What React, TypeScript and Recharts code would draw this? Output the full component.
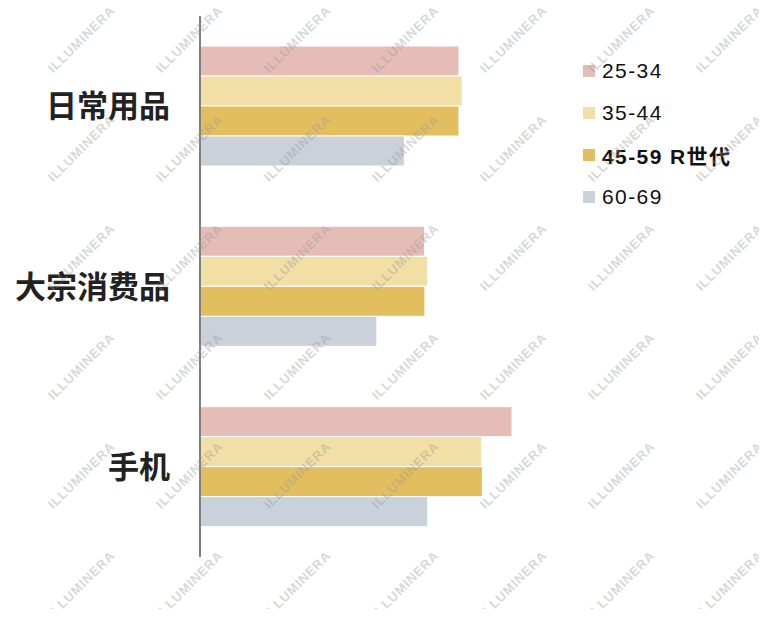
import React from 'react';
import { BarChart, Bar, XAxis, YAxis } from 'recharts';

const categories = ['日常用品', '大宗消费品', '手机'];
const seriesNames = ['25-34', '35-44', '45-59 R世代', '60-69'];
const seriesColors = ['#E5BDB6', '#F2DFA5', '#E3BE5E', '#CBD1DA'];

const age25to34 = [83, 72, 100];
const age35to44 = [84, 73, 90.3];
const age45to59 = [83, 72.1, 90.5];
const age60to69 = [65.5, 56.7, 73];

const seriesValues = [age25to34, age35to44, age45to59, age60to69];

const data = categories.map((name, i) => {
    const row: Record<string, string | number> = { name };
    seriesValues.forEach((vals, s) => { row['s' + s] = vals[i]; });
    return row;
});

const labelFont = '"Noto Sans CJK SC", "Noto Sans", sans-serif';
const legendFont = '"Liberation Sans", Arial, "Noto Sans CJK SC", sans-serif';

function Watermark() {
    const marks = [];
    for (let j = -2; j <= 3; j++) {
        for (let k = -6; k <= 2; k++) {
            const cx = 622 + 108 * k;
            const cy = 258 + 109 * j;
            marks.push(
                <text key={j + '_' + k} x={cx} y={cy} textAnchor="middle" dominantBaseline="middle"
                    transform={`rotate(-45 ${cx} ${cy})`} fontSize={13} fontWeight="bold" letterSpacing={0.8}
                    fontFamily={legendFont} fill="#999" fillOpacity={0.4}>ILLUMINERA</text>
            );
        }
    }
    return (
        <svg width={767} height={617} style={{ position: 'absolute', left: -8, top: -8, pointerEvents: 'none' }}>
            {marks}
        </svg>
    );
}

function Legend() {
    return (
        <div style={{ position: 'absolute', left: 575, top: 42 }}>
            {seriesNames.map((name, i) => (
                <div key={name} style={{ display: 'flex', alignItems: 'center', height: 42 }}>
                    <span style={{ width: 12, height: 12, background: seriesColors[i], marginRight: 7 }} />
                    <span style={{
                        fontFamily: legendFont, fontSize: 21, letterSpacing: 1.4,
                        fontWeight: i === 2 ? 'bold' : 'normal', color: '#111'
                    }}>{name}</span>
                </div>
            ))}
        </div>
    );
}

export default function App() {
    return (
        <div style={{ position: 'relative', width: 751, height: 601 }}>
            <BarChart width={751} height={601} data={data} layout="vertical" barGap={0} barSize={30}
                margin={{ top: 8, right: 247, bottom: 52, left: 0 }}>
                <XAxis type="number" domain={[0, 100]} hide />
                <YAxis type="category" dataKey="name" width={192} tickLine={false} tickSize={0} tickMargin={30}
                    axisLine={{ stroke: '#808080', strokeWidth: 2 }}
                    tick={{ fontSize: 31, fontWeight: 'bold', fill: '#222', fontFamily: labelFont }} />
                {seriesNames.map((name, i) => (
                    <Bar key={name} dataKey={'s' + i} name={name} fill={seriesColors[i]}
                        stroke="#fff" strokeWidth={1} isAnimationActive={false} />
                ))}
            </BarChart>
            <Legend />
            <Watermark />
        </div>
    );
}
